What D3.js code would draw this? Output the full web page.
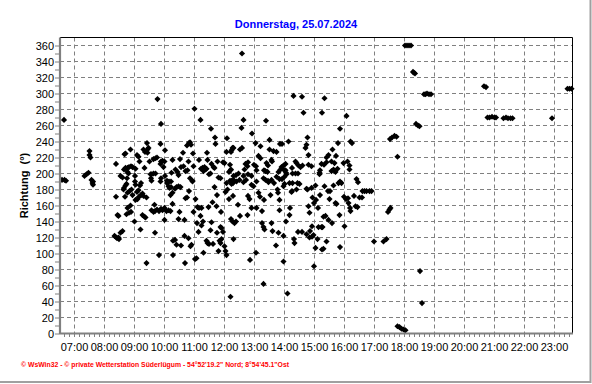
<!DOCTYPE html>
<html><head><meta charset="utf-8">
<script src="https://cdn.jsdelivr.net/npm/d3@7"></script>
<style>
html,body{margin:0;padding:0;background:#fff;}
svg{display:block;font-family:"Liberation Sans",Arial,sans-serif;}
</style></head><body>
<svg id="c" width="592" height="384"></svg>
<script>
// ---------- chart texts ----------
const chartTitle = "Donnerstag, 25.07.2024";
const yAxisTitle = "Richtung  (°)";
const footerText = "© WsWin32 - © private Wetterstation Süderlügum - 54°52'19.2\" Nord; 8°54'45.1\"Ost";

// ---------- axes ----------
const timeDomain = ["06:32", "23:38"];
const directionDomain = [0, 370];
const hourTicks = ["07:00","08:00","09:00","10:00","11:00","12:00","13:00","14:00","15:00",
                   "16:00","17:00","18:00","19:00","20:00","21:00","22:00","23:00"];
const directionTicks = [0,20,40,60,80,100,120,140,160,180,200,220,240,260,280,300,320,340,360];

// ---------- wind direction readings (time, degrees) ----------
const earlyReadings = [
 ["06:36",192],["06:40",267],["06:41",192],["06:44",191],
 ["07:21",197],["07:25",199],["07:29",201],["07:31",228],["07:31",223],["07:33",220],["07:35",192],["07:37",188],["07:38",190],["07:38",186]
];
const morningReadings = [
 ["08:21",122],["08:23",121],["08:24",212],["08:24",171],["08:26",119],["08:27",148],["08:29",147],["08:29",120],["08:30",118],["08:33",197],["08:33",126],["08:37",195],["08:37",128],["08:39",180],["08:40",205],["08:40",182],["08:41",224],["08:42",171],["08:43",207],["08:43",225],["08:43",185],["08:45",187],["08:45",149],["08:46",194],["08:47",207],["08:47",202],["08:47",157],["08:47",176],["08:49",200],["08:50",208],["08:50",151],["08:51",178],["08:53",230],["08:53",160],["08:54",209],["08:54",152],["08:55",180],["08:57",208],["08:57",173],
 ["09:01",140],["09:02",197],["09:02",190],["09:03",206],["09:03",186],["09:03",167],["09:06",223],["09:06",177],["09:07",168],["09:09",221],["09:09",179],["09:10",171],["09:11",215],["09:12",185],["09:13",130],["09:14",173],["09:14",188],["09:17",175],["09:17",148],["09:19",230],["09:19",172],["09:21",207],["09:21",146],["09:22",227],["09:23",145],["09:25",170],["09:25",88],["09:26",238],["09:27",230],["09:27",226],["09:29",232],["09:31",215],["09:33",199],["09:34",194],["09:35",199],["09:35",191],["09:35",154],["09:39",200],["09:39",218],["09:39",152],["09:41",161],["09:42",153],["09:42",126],["09:43",200],["09:43",219],["09:46",220],["09:46",155],["09:47",293],["09:50",153],["09:50",98],["09:53",237],["09:53",212],["09:53",190],["09:54",262],["09:54",215],["09:54",194],["09:54",156],["09:57",216],["09:57",154],["09:59",208],
 ["10:01",215],["10:01",157],["10:01",142],["10:02",229],["10:02",197],["10:05",153],["10:06",191],["10:06",188],["10:09",154],["10:09",184],["10:10",190],["10:11",182],["10:13",153],["10:13",173],["10:14",190],["10:14",183],["10:15",201],["10:17",217],["10:17",176],["10:17",162],["10:18",116],["10:18",98],["10:22",117],["10:22",181],["10:23",205],["10:25",111],["10:25",183],["10:27",202],["10:29",198],["10:29",184],["10:29",143],["10:31",152],["10:32",218],["10:33",183],["10:34",208],["10:34",110],["10:38",226],["10:39",209],["10:41",142],["10:41",122],["10:42",88],["10:43",203],["10:43",169],["10:46",235],["10:46",170],["10:47",204],["10:49",215],["10:49",119],["10:50",238],["10:50",178],["10:52",239],["10:52",194],["10:53",109],["10:54",236],["10:55",111],["10:57",190],["10:57",191],["10:58",225],["10:59",209],["10:59",152]
];
const middayReadings = [
 ["11:01",281],["11:02",93],["11:03",168],["11:05",94],["11:06",138],["11:07",158],["11:09",127],["11:10",217],["11:10",157],["11:13",267],["11:13",147],["11:14",206],["11:15",157],["11:15",135],["11:17",207],["11:18",140],["11:19",203],["11:19",101],["11:21",208],["11:23",205],["11:25",206],["11:25",116],["11:26",226],["11:27",217],["11:27",113],["11:29",158],["11:30",199],["11:30",112],["11:33",200],["11:33",129],["11:34",256],["11:35",212],["11:35",139],["11:37",164],["11:38",112],["11:39",208],["11:41",207],["11:41",183],["11:42",245],["11:43",237],["11:45",159],["11:46",173],["11:46",126],["11:47",215],["11:49",195],["11:49",103],["11:51",116],["11:53",194],["11:53",113],["11:53",133],["11:54",152],["11:55",118],["11:55",132],["11:58",214],["11:58",127],
 ["12:01",213],["12:01",109],["12:03",103],["12:03",177],["12:05",227],["12:05",98],["12:05",188],["12:06",244],["12:07",180],["12:10",202],["12:10",168],["12:12",211],["12:12",191],["12:13",204],["12:13",46],["12:14",205],["12:14",227],["12:14",143],["12:15",191],["12:15",229],["12:15",187],["12:17",232],["12:17",140],["12:18",172],["12:18",188],["12:19",118],["12:19",232],["12:19",197],["12:19",192],["12:21",138],["12:24",198],["12:24",140],["12:25",190],["12:28",161],["12:29",200],["12:31",192],["12:32",230],["12:32",147],["12:35",257],["12:36",350],["12:36",232],["12:39",267],["12:39",197],["12:39",189],["12:41",205],["12:43",212],["12:44",192],["12:47",209],["12:47",148],["12:48",214],["12:48",199],["12:48",172],["12:51",168],["12:52",92],["12:55",197],["12:55",186],["12:55",157],["12:56",250],["12:59",184],
 ["13:00",211],["13:03",238],["13:04",209],["13:04",101],["13:05",204],["13:05",190],["13:05",157],["13:09",222],["13:09",176],["13:12",171],["13:13",234],["13:13",219],["13:16",153],["13:16",138],["13:19",194],["13:19",133],["13:19",62],["13:20",204],["13:20",167],["13:21",130],["13:23",203],["13:23",192],["13:24",266],["13:25",213],["13:27",202],["13:28",210],["13:28",191],["13:29",189],["13:31",242],["13:31",230],["13:33",173],["13:35",217],["13:35",192],["13:35",138],["13:36",215],["13:37",128],["13:39",228],["13:40",188],["13:44",110],["13:45",227],["13:45",196],["13:47",180],["13:48",176],["13:49",202],["13:49",126],["13:51",193],["13:51",167],["13:51",154],["13:52",237],["13:53",205],["13:55",208],["13:56",237],["13:56",193],["13:59",210],["13:59",205],["13:59",184],["13:59",122],["13:59",90]
];
const afternoonReadings = [
 ["14:01",196],["14:01",187],["14:03",212],["14:03",204],["14:04",201],["14:04",140],["14:05",199],["14:07",50],["14:09",240],["14:11",188],["14:11",148],["14:12",157],["14:15",177],["14:16",207],["14:16",178],["14:17",200],["14:17",188],["14:19",297],["14:20",118],["14:21",113],["14:23",215],["14:23",200],["14:25",213],["14:25",180],["14:27",188],["14:28",200],["14:28",127],["14:29",210],["14:31",187],["14:33",208],["14:36",296],["14:36",127],["14:37",210],["14:39",276],["14:43",232],["14:45",236],["14:45",181],["14:45",124],["14:47",245],["14:47",180],["14:49",223],["14:49",211],["14:49",159],["14:51",151],["14:51",120],["14:52",128],["14:55",209],["14:55",182],["14:56",121],["14:56",134],["14:57",170],["14:59",123],
 ["15:00",163],["15:00",84],["15:03",185],["15:03",107],["15:04",167],["15:07",118],["15:08",157],["15:09",133],["15:11",199],["15:11",201],["15:12",204],["15:12",173],["15:15",212],["15:15",133],["15:16",276],["15:16",105],["15:17",133],["15:19",106],["15:19",146],["15:20",211],["15:21",294],["15:21",184],["15:23",147],["15:25",220],["15:25",214],["15:25",115],["15:28",178],["15:29",223],["15:29",142],["15:31",168],["15:32",178],["15:35",215],["15:35",203],["15:36",138],["15:37",230],["15:39",205],["15:39",185],["15:41",213],["15:43",202],["15:43",163],["15:44",222],["15:45",162],["15:47",206],["15:48",238],["15:49",188],["15:51",148],["15:52",256],["15:52",190],["15:52",108],["15:55",188],["15:59",213],
 ["16:00",171],["16:01",134],["16:04",168],["16:05",272],["16:07",215],["16:08",169],["16:09",163],["16:11",210],["16:11",205],["16:12",157],["16:13",240],["16:13",153],["16:16",238],["16:20",172],["16:23",159],["16:25",193],["16:27",158],["16:28",189],["16:31",170],["16:36",170],["16:37",178],["16:41",178],["16:45",178],["16:51",178],["16:55",178]
];
const eveningReadings = [
 ["17:00",115],["17:19",115],["17:25",118],["17:28",152],["17:31",155],["17:33",157],["17:32",243],["17:36",245],["17:41",247],["17:45",246],["17:47",221],
 ["17:47",9],["17:51",8],["17:55",6],["17:59",5],["18:03",4],
 ["18:02",360],["18:06",360],["18:10",360],["18:14",360],
 ["18:18",327],["18:20",326],["18:22",325],["18:24",262],["18:28",260],["18:31",259],["18:32",78],["18:36",38],
 ["18:40",299],["18:43",299],["18:46",300],["18:50",299],["18:54",299],
 ["20:40",309],["20:44",308],["20:47",270],["20:51",270],["20:56",271],["21:01",270],["21:04",270],
 ["21:19",269],["21:24",270],["21:28",269],["21:33",269],["21:37",269],["22:56",269],
 ["23:27",306],["23:31",306],["23:35",306]
];
const readings = [].concat(earlyReadings, morningReadings, middayReadings, afternoonReadings, eveningReadings);

// ---------- drawing ----------
const parseTime = d3.timeParse("%H:%M");
const svg = d3.select("#c");
const W = 592, H = 384;
const plot = {left: 60, right: 573, top: 37.5, bottom: 333.5};

const x = d3.scaleTime().domain(timeDomain.map(parseTime)).range([plot.left, plot.right]);
const y = d3.scaleLinear().domain(directionDomain).range([plot.bottom, plot.top]);

svg.append("rect").attr("width", W).attr("height", H).attr("fill", "#fff");

// outer frame (shadow lines right & bottom)
svg.append("path").attr("d", `M${W-1.5},0V${H-2}H0`).attr("fill","none")
   .attr("stroke","#a0a0a0").attr("stroke-width",2);

// title
svg.append("text").attr("x", W/2).attr("y", 28).attr("text-anchor","middle")
   .attr("font-size", 11).attr("font-weight","bold").attr("fill","#0000ff").text(chartTitle);

// grid
const grid = svg.append("g").attr("stroke","#808080").attr("stroke-width",1).attr("stroke-dasharray","4,3");
grid.selectAll("line.h").data(directionTicks.filter(d => d > 0)).join("line")
   .attr("x1", plot.left).attr("x2", plot.right)
   .attr("y1", d => y(d)).attr("y2", d => y(d));
grid.selectAll("line.v").data(hourTicks.map(parseTime)).join("line")
   .attr("x1", d => Math.round(x(d)) + 0.5).attr("x2", d => Math.round(x(d)) + 0.5)
   .attr("y1", plot.top).attr("y2", plot.bottom);

// black top/right border
svg.append("path").attr("d", `M${plot.left},${plot.top}H${plot.right - 0.5}V${plot.bottom}`)
   .attr("fill","none").attr("stroke","#000").attr("stroke-width",1);

// points
const diamond = d3.symbol(d3.symbolDiamond2, 24);
svg.append("g").selectAll("path").data(readings).join("path")
   .attr("transform", d => `translate(${x(parseTime(d[0]))},${y(d[1])})`)
   .attr("d", diamond).attr("fill","#000");

// minor ticks
const minorX = d3.axisBottom(x).ticks(d3.timeMinute.every(10)).tickSize(3).tickFormat("");
const gmx = svg.append("g").attr("transform", `translate(0,${plot.bottom + 0.5})`).call(minorX);
gmx.select(".domain").remove();
gmx.selectAll("line").attr("stroke","#808080");

const minorY = d3.axisLeft(y).tickValues(d3.range(0, 361, 10)).tickSize(4).tickFormat("");
const gmy = svg.append("g").attr("transform", `translate(${plot.left - 1},0)`).call(minorY);
gmy.select(".domain").remove();
gmy.selectAll("line").attr("stroke","#808080");

// axis lines (gray)
svg.append("path").attr("d", `M${plot.left},${plot.top}V${plot.bottom}H${plot.right}`)
   .attr("fill","none").attr("stroke","#808080").attr("stroke-width",2.2);

// labels
const xAxis = d3.axisBottom(x).tickValues(hourTicks.map(parseTime))
   .tickFormat(d3.timeFormat("%H:%M")).tickSize(0).tickPadding(10);
const gx = svg.append("g").attr("transform", `translate(0,${plot.bottom})`).call(xAxis);
gx.select(".domain").remove();
gx.selectAll("text").attr("font-size", 11).attr("font-family","'Liberation Sans',Arial,sans-serif").attr("fill","#000");

const yAxis = d3.axisLeft(y).tickValues(directionTicks).tickSize(0).tickPadding(6);
const gy = svg.append("g").attr("transform", `translate(${plot.left},0)`).call(yAxis);
gy.select(".domain").remove();
gy.selectAll("text").attr("font-size", 11).attr("font-family","'Liberation Sans',Arial,sans-serif").attr("fill","#000");

// y-axis title
svg.append("text").attr("transform", `translate(28,${(plot.top + plot.bottom)/2}) rotate(-90)`)
   .attr("text-anchor","middle").attr("font-size",11).attr("font-weight","bold")
   .attr("xml:space","preserve").style("white-space","pre").text(yAxisTitle);

// footer
svg.append("text").attr("x", 21).attr("y", 367).attr("font-size", 7).attr("font-weight","bold")
   .attr("fill","#ff0000").attr("textLength", 268).attr("lengthAdjust","spacingAndGlyphs")
   .text(footerText);
</script>
</body></html>
